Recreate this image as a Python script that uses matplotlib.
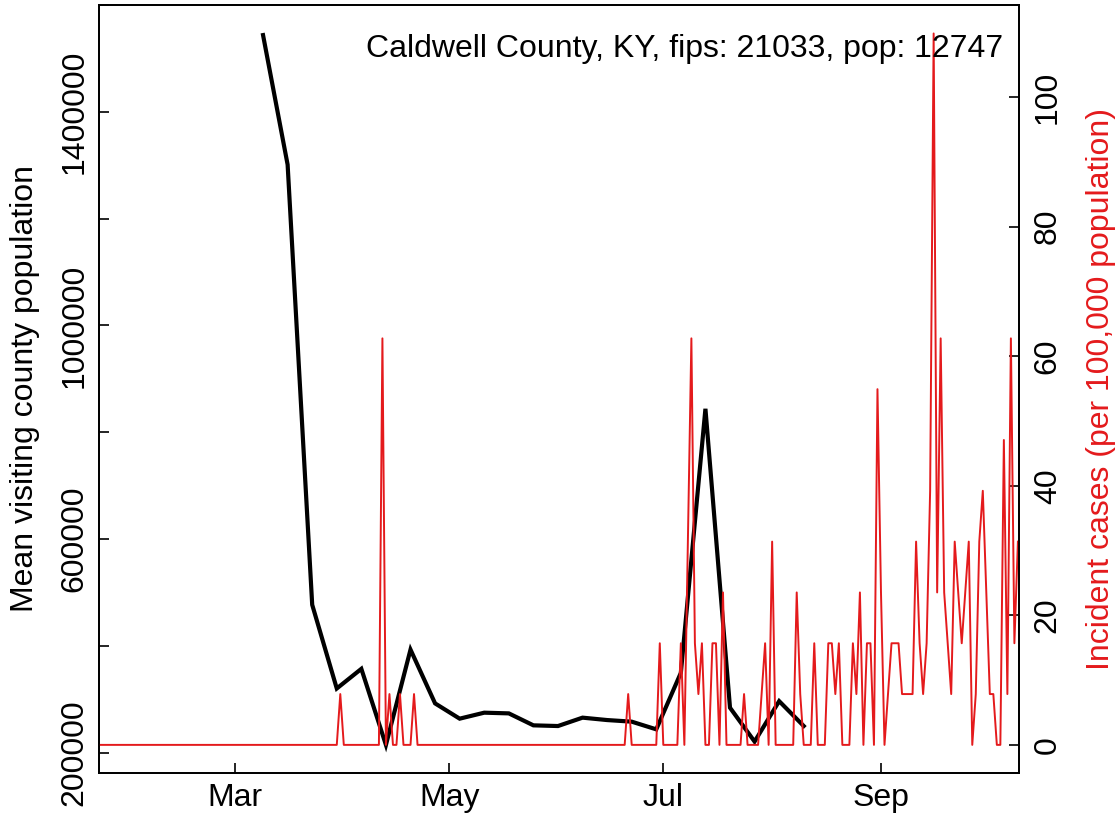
import numpy as np
import pandas as pd
import matplotlib
matplotlib.use("Agg")
import matplotlib.pyplot as plt

plt.rcParams['font.family'] = ['Liberation Sans', 'DejaVu Sans']

# county info
county = "Caldwell County, KY"
fips = "21033"
pop = 12747

# weekly mean visiting county population
visit_dates = pd.date_range("2020-03-09", periods=23, freq="7D")
visit_mean = [1543700, 1301100, 477100, 320300, 357100, 214600, 393100, 292400,
              263800, 275000, 273700, 251300, 250000, 265700, 261200, 258200,
              243800, 349600, 844000, 284300, 220900, 296600, 250000]

# daily incident cases (days not listed are zero)
case_start = "2020-01-22"
case_end = "2020-10-10"
case_dates = ["2020-03-31", "2020-04-12", "2020-04-14", "2020-04-17", "2020-04-21",
              "2020-06-21", "2020-06-30", "2020-07-06", "2020-07-08", "2020-07-09",
              "2020-07-10", "2020-07-11", "2020-07-12", "2020-07-15", "2020-07-16",
              "2020-07-18", "2020-07-24", "2020-07-29", "2020-07-30", "2020-08-01",
              "2020-08-08", "2020-08-09", "2020-08-13", "2020-08-17", "2020-08-18",
              "2020-08-19", "2020-08-20", "2020-08-24", "2020-08-25", "2020-08-26",
              "2020-08-28", "2020-08-29", "2020-08-31", "2020-09-01", "2020-09-03",
              "2020-09-04", "2020-09-05", "2020-09-06", "2020-09-07", "2020-09-08",
              "2020-09-09", "2020-09-10", "2020-09-11", "2020-09-12", "2020-09-13",
              "2020-09-14", "2020-09-15", "2020-09-16", "2020-09-17", "2020-09-18",
              "2020-09-19", "2020-09-20", "2020-09-21", "2020-09-22", "2020-09-23",
              "2020-09-24", "2020-09-25", "2020-09-26", "2020-09-28", "2020-09-29",
              "2020-09-30", "2020-10-01", "2020-10-02", "2020-10-03", "2020-10-06",
              "2020-10-07", "2020-10-08", "2020-10-09", "2020-10-10"]
case_counts = [1, 8, 1, 1, 1,
               1, 2, 2, 4, 8,
               2, 1, 2, 2, 2,
               3, 1, 1, 2, 4,
               3, 1, 2, 2, 2,
               1, 2, 2, 1, 3,
               2, 2, 7, 3, 1,
               2, 2, 2, 1, 1,
               1, 1, 4, 2, 1,
               2, 5, 14, 3, 8,
               3, 2, 1, 4, 3,
               2, 3, 4, 1, 4,
               5, 3, 1, 1, 6,
               1, 8, 2, 4]

month_ticks = ["2020-03-01", "2020-05-01", "2020-07-01", "2020-09-01"]
month_labels = ["Mar", "May", "Jul", "Sep"]

red = "#E41A1C"
fs = 23

cases = pd.Series(0.0, index=pd.date_range(case_start, case_end, freq="D"))
cases[pd.to_datetime(case_dates)] = case_counts
incidence = cases * 100000 / pop

fig = plt.figure(figsize=(11.19, 8.22), dpi=100)
ax = fig.add_axes([0.0887, 0.0592, 0.8219, 0.9347])

ax.plot(visit_dates, visit_mean, color="black", lw=3.0, solid_joinstyle="miter")
lo, hi = min(visit_mean), max(visit_mean)
ax.set_ylim(lo - 0.04 * (hi - lo), hi + 0.04 * (hi - lo))
ax.set_yticks(np.arange(200000, 1600001, 200000))
ax.set_yticklabels([f"{v:d}" if (v // 200000) % 2 == 1 else "" for v in range(200000, 1600001, 200000)],
                   rotation=90, va="center")

origin = pd.Timestamp("2020-03-01")
ax.set_xlim(origin + pd.Timedelta(days=-38.65), origin + pd.Timedelta(days=223.3))
ax.set_xticks(pd.to_datetime(month_ticks))
ax.set_xticklabels(month_labels)

ax2 = ax.twinx()
ax2.plot(incidence.index, incidence.values, color=red, lw=1.4)
rlo, rhi = incidence.min(), incidence.max()
ax2.set_ylim(rlo - 0.04 * (rhi - rlo), rhi + 0.04 * (rhi - rlo))
ax2.set_yticks([0, 20, 40, 60, 80, 100])
ax2.set_yticklabels(["0", "20", "40", "60", "80", "100"], rotation=90, va="center")
ax2.set_xlim(ax.get_xlim())

for a in (ax, ax2):
    a.tick_params(direction="in", length=7, width=1.2, labelsize=fs, pad=7)
    for s in a.spines.values():
        s.set_linewidth(1.3)
ax2.tick_params(axis="y", pad=10)

ax2.text(0.9826, 0.9323, f"{county}, fips: {fips}, pop: {pop}", transform=ax2.transAxes,
         ha="right", va="baseline", fontsize=fs)

fig.text(0.022, 0.527, "Mean visiting county population", rotation=90,
         ha="center", va="center", fontsize=fs)
fig.text(0.984, 0.527, "Incident cases (per 100,000 population)", rotation=90,
         ha="center", va="center", fontsize=fs, color=red)

fig.savefig("out.png", dpi=100)
